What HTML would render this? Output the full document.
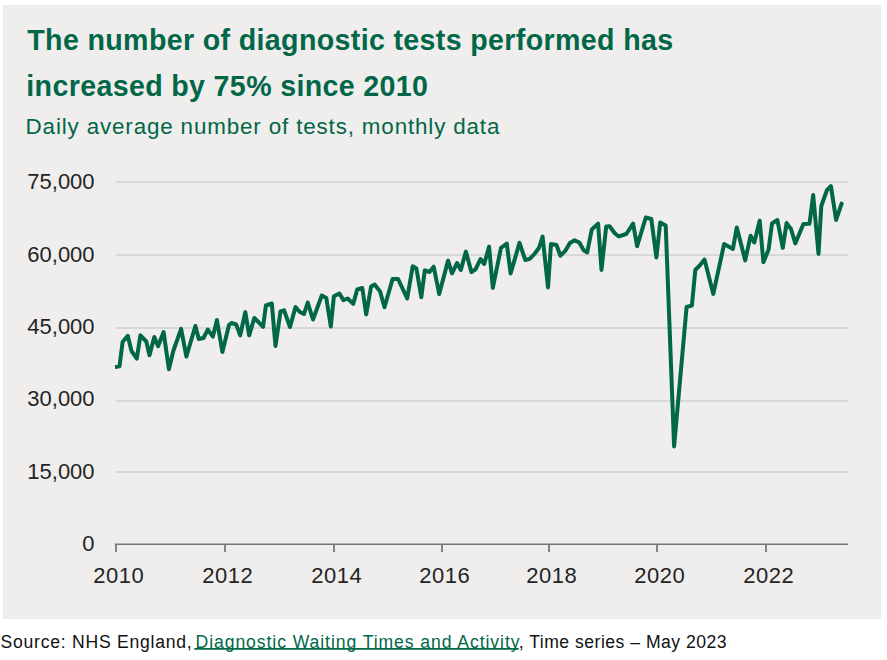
<!DOCTYPE html>
<html><head><meta charset="utf-8"><style>
html,body{margin:0;padding:0;background:#fff;width:887px;height:660px;overflow:hidden}
svg{position:absolute;left:0;top:0;display:block}
.t{font-family:"Liberation Sans",sans-serif;font-weight:bold;font-size:28.6px;fill:#026749;letter-spacing:0.35px}
.s{font-family:"Liberation Sans",sans-serif;font-size:22.4px;fill:#026749;letter-spacing:0.85px}
.ax{font-family:"Liberation Sans",sans-serif;font-size:22px;fill:#242424}
.src{font-family:"Liberation Sans",sans-serif;font-size:17.6px;fill:#111}
.lnk{fill:#026749}
</style></head><body>
<svg width="887" height="660" viewBox="0 0 887 660">
<defs><clipPath id="pc"><rect x="115" y="150" width="740" height="400"/></clipPath></defs>
<rect x="3" y="5" width="878" height="614" fill="#efeeec"/>
<text x="27.3" y="49.6" class="t">The number of diagnostic tests performed has</text>
<text x="26.3" y="96.1" class="t">increased by 75% since 2010</text>
<text x="25.6" y="134.1" class="s">Daily average number of tests, monthly data</text>
<line x1="116" x2="848" y1="182.0" y2="182.0" stroke="#d8d8d8" stroke-width="1.9"/>
<line x1="116" x2="848" y1="255.0" y2="255.0" stroke="#d8d8d8" stroke-width="1.9"/>
<line x1="116" x2="848" y1="328.0" y2="328.0" stroke="#d8d8d8" stroke-width="1.9"/>
<line x1="116" x2="848" y1="401.0" y2="401.0" stroke="#d8d8d8" stroke-width="1.9"/>
<line x1="116" x2="848" y1="472.0" y2="472.0" stroke="#d8d8d8" stroke-width="1.9"/>
<line x1="115" x2="848" y1="544.2" y2="544.2" stroke="#777" stroke-width="1.6"/>
<line x1="116.0" x2="116.0" y1="544.2" y2="552" stroke="#777" stroke-width="1.8"/>
<line x1="225.0" x2="225.0" y1="544.2" y2="552" stroke="#777" stroke-width="1.8"/>
<line x1="334.0" x2="334.0" y1="544.2" y2="552" stroke="#777" stroke-width="1.8"/>
<line x1="442.0" x2="442.0" y1="544.2" y2="552" stroke="#777" stroke-width="1.8"/>
<line x1="549.0" x2="549.0" y1="544.2" y2="552" stroke="#777" stroke-width="1.8"/>
<line x1="657.0" x2="657.0" y1="544.2" y2="552" stroke="#777" stroke-width="1.8"/>
<line x1="766.0" x2="766.0" y1="544.2" y2="552" stroke="#777" stroke-width="1.8"/>
<text x="94.6" y="189.2" text-anchor="end" class="ax">75,000</text>
<text x="94.6" y="261.7" text-anchor="end" class="ax">60,000</text>
<text x="94.6" y="334.2" text-anchor="end" class="ax">45,000</text>
<text x="94.6" y="406.2" text-anchor="end" class="ax">30,000</text>
<text x="94.6" y="479.2" text-anchor="end" class="ax">15,000</text>
<text x="94.6" y="551.2" text-anchor="end" class="ax">0</text>
<text x="118.8" y="582.8" text-anchor="middle" class="ax" letter-spacing="0.5">2010</text>
<text x="227.8" y="582.8" text-anchor="middle" class="ax" letter-spacing="0.5">2012</text>
<text x="336.8" y="582.8" text-anchor="middle" class="ax" letter-spacing="0.5">2014</text>
<text x="444.8" y="582.8" text-anchor="middle" class="ax" letter-spacing="0.5">2016</text>
<text x="551.8" y="582.8" text-anchor="middle" class="ax" letter-spacing="0.5">2018</text>
<text x="659.8" y="582.8" text-anchor="middle" class="ax" letter-spacing="0.5">2020</text>
<text x="768.8" y="582.8" text-anchor="middle" class="ax" letter-spacing="0.5">2022</text>
<polyline points="114.8,367 119.5,366.3 122.6,342 127.8,335.8 131.5,351 136.8,358.6 140.4,335.3 146.3,341.5 149.5,355.3 154.3,337 158.1,346.2 163.6,332 168.9,369.2 173.3,351 181.1,328.8 186.4,356.5 195.4,326 198.8,339 203.5,338 207.8,329.6 212.9,336.6 216.9,320 222.4,352 229,325 231.5,323 236.2,324.5 240.2,335.4 245.3,312.1 249.2,335.4 254.3,318 259.9,323.5 263.1,326.8 265.9,305.5 271.8,303.5 275.5,346 280.5,311.5 284.1,310.3 290,327 295.5,307 299.8,312 304,314 307.7,302.5 313,319.5 321.8,295.5 326.3,298 330.8,326.5 333.9,296.3 339.4,293.5 343.4,300.1 347.7,298.5 353.2,303.9 357.2,289.5 362.3,288 366.2,314.5 371.1,286.5 374.6,284.5 380.1,291.5 384.5,307.3 392.6,279 398.1,279 407.2,298.5 412.7,266.3 416.4,268.5 421.3,297.2 424.8,270.3 429.5,272 433.7,266.7 439.2,294 448.1,260.6 452,273.4 457,263.1 460.8,269.9 465.9,251.6 471.4,272 475.5,269.3 480.5,259.05 484.2,263.95 489.1,246.6 492.8,287.9 501,247.8 506.8,243.55 510.6,273.4 519.5,242.9 525.3,260 529.8,258.9 534.4,254 538.9,248 542.6,236.6 548,287.4 551,244 556.5,245 560.3,255.7 565.5,250.6 569.9,243 574.6,240.35 579.3,242.5 583.7,250.3 587.2,252.45 591.8,229.5 598.1,223.6 601.5,269.9 606.2,226.5 609.8,226.3 614.5,233 618.8,236.45 626.3,234 633.1,223.6 637.1,246.2 645.8,217.5 651.3,219 656.4,257.4 660.2,222.55 665.7,225.5 674.1,446.4 686.6,307 691.9,305.5 695.3,270 699.7,265.5 704.5,259.6 713.3,293.9 724.1,244.05 732.9,248.95 736.8,227.4 745.2,260.4 750.6,235.8 754.3,242.4 759.7,220.6 763.4,262.2 768.6,249.5 772,223.5 777.4,220.05 782.8,247.9 786.6,223.1 791,229 795.3,243.4 803.4,223.9 809.5,223.7 813.2,195.1 818.5,253.9 821.3,206 827,190 830.9,186.15 836.1,219.9 841.6,203.6" fill="none" stroke="#026749" stroke-width="4" stroke-linejoin="round" stroke-linecap="round" clip-path="url(#pc)"/>
<text x="0.6" y="648" class="src" textLength="191.0" lengthAdjust="spacing">Source: NHS England,</text>
<text x="195.5" y="648" class="src lnk" textLength="324.0" lengthAdjust="spacing">Diagnostic Waiting Times and Activity</text>
<text x="518.8" y="648" class="src" textLength="207.8" lengthAdjust="spacing">, Time series – May 2023</text>
<line x1="194.3" x2="518.7" y1="648.9" y2="648.9" stroke="#026749" stroke-width="1.6"/>
</svg>
</body></html>
